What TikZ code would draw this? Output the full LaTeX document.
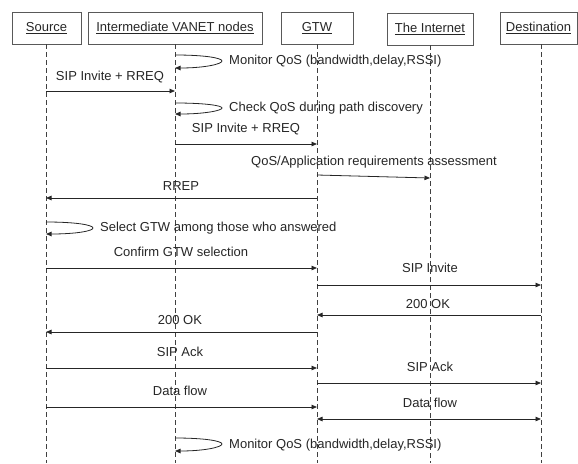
\documentclass[tikz,border=0pt]{standalone}
\usepackage{fontspec}
\setmainfont{Liberation Sans}
\usetikzlibrary{arrows.meta}
\begin{document}
\begin{tikzpicture}[x=1pt,y=-1pt,
  font=\fontsize{13}{15}\selectfont,
  hdr/.style={draw=black!65, line width=0.7pt, minimum height=32pt, inner sep=0pt, text=black!85},
  life/.style={draw=black!75, line width=0.8pt, dash pattern=on 5pt off 3pt},
  msg/.style={draw=black!85, line width=0.8pt, -{Triangle[length=5.5pt,width=4.5pt]}},
  dmsg/.style={draw=black!85, line width=0.8pt, {Triangle[length=5.5pt,width=4.5pt]}-{Triangle[length=5.5pt,width=4.5pt]}},
  lbl/.style={anchor=base, inner sep=0pt, text=black!85},
  llbl/.style={anchor=base west, inner sep=0pt, text=black!85}]
\useasboundingbox (0,0) rectangle (578,463);
% headers
\node[hdr, minimum width=69pt] (src) at (46.5,28) {\underline{Source}};
\node[hdr, minimum width=174pt] (int) at (175,28) {\underline{Intermediate VANET nodes}};
\node[hdr, minimum width=72pt] (gtw) at (317,28) {\underline{GTW}};
\node[hdr, minimum width=86pt] (inet) at (430,29) {\underline{The Internet}};
\node[hdr, minimum width=77pt] (dst) at (538.5,28) {\underline{Destination}};
% lifeline ends
\coordinate (es) at (46,463);
\coordinate (ei) at (175,463);
\coordinate (eg) at (317,463);
\coordinate (en) at (430,463);
\coordinate (ed) at (541,463);
\draw[life] (src.south -| es) -- (es);
\draw[life] (int.south -| ei) -- (ei);
\draw[life] (gtw.south -| eg) -- (eg);
\draw[life] (inet.south -| en) -- (en);
\draw[life] (dst.south -| ed) -- (ed);
% self loops and messages
\draw[msg] (ei |- 0,55) .. controls (205,55) and (222,58) .. (222,61) .. controls (222,64) and (205,68) .. (ei |- 0,68);
\node[llbl] (t1) at (229,64.5) {Monitor QoS (bandwidth,delay,RSSI)};
\draw[msg] (es |- 0,91) -- (ei |- 0,91);
\node[lbl] (t2) at (110,80.5) {SIP Invite + RREQ};
\draw[msg] (ei |- 0,103) .. controls (205,103) and (222,105.5) .. (222,108) .. controls (222,110.5) and (205,114) .. (ei |- 0,114);
\node[llbl] (t3) at (229,111.5) {Check QoS during path discovery};
\draw[msg] (ei |- 0,144) -- (eg |- 0,144);
\node[lbl] (t4) at (246,132.5) {SIP Invite + RREQ};
\draw[msg] (eg |- 0,175) -- (en |- 0,178);
\node[lbl] (t5) at (374,165.5) {QoS/Application requirements assessment};
\draw[msg] (eg |- 0,198) -- (es |- 0,198);
\node[lbl] (t6) at (181,190.5) {RREP};
\draw[msg] (es |- 0,222) .. controls (76,222) and (93,225) .. (93,228) .. controls (93,231) and (76,234) .. (es |- 0,234);
\node[llbl] (t7) at (100,231.5) {Select GTW among those who answered};
\draw[msg] (es |- 0,268) -- (eg |- 0,268);
\node[lbl] (t8) at (181,256.5) {Confirm GTW selection};
\draw[msg] (eg |- 0,285) -- (ed |- 0,285);
\node[lbl] (t9) at (430,272.5) {SIP Invite};
\draw[msg] (ed |- 0,315) -- (eg |- 0,315);
\node[lbl] (t10) at (428,308.5) {200 OK};
\draw[msg] (eg |- 0,332) -- (es |- 0,332);
\node[lbl] (t11) at (180,324.5) {200 OK};
\draw[msg] (es |- 0,368) -- (eg |- 0,368);
\node[lbl] (t12) at (180,356.5) {SIP Ack};
\draw[msg] (eg |- 0,383) -- (ed |- 0,383);
\node[lbl] (t13) at (430,371.5) {SIP Ack};
\draw[msg] (es |- 0,407) -- (eg |- 0,407);
\node[lbl] (t14) at (180,395.5) {Data flow};
\draw[dmsg] (eg |- 0,419) -- (ed |- 0,419);
\node[lbl] (t15) at (430,407.5) {Data flow};
\draw[msg] (ei |- 0,438) .. controls (205,438) and (222,441) .. (222,444) .. controls (222,447) and (205,451) .. (ei |- 0,451);
\node[llbl] (t16) at (229,448.5) {Monitor QoS (bandwidth,delay,RSSI)};
\end{tikzpicture}
\end{document}
